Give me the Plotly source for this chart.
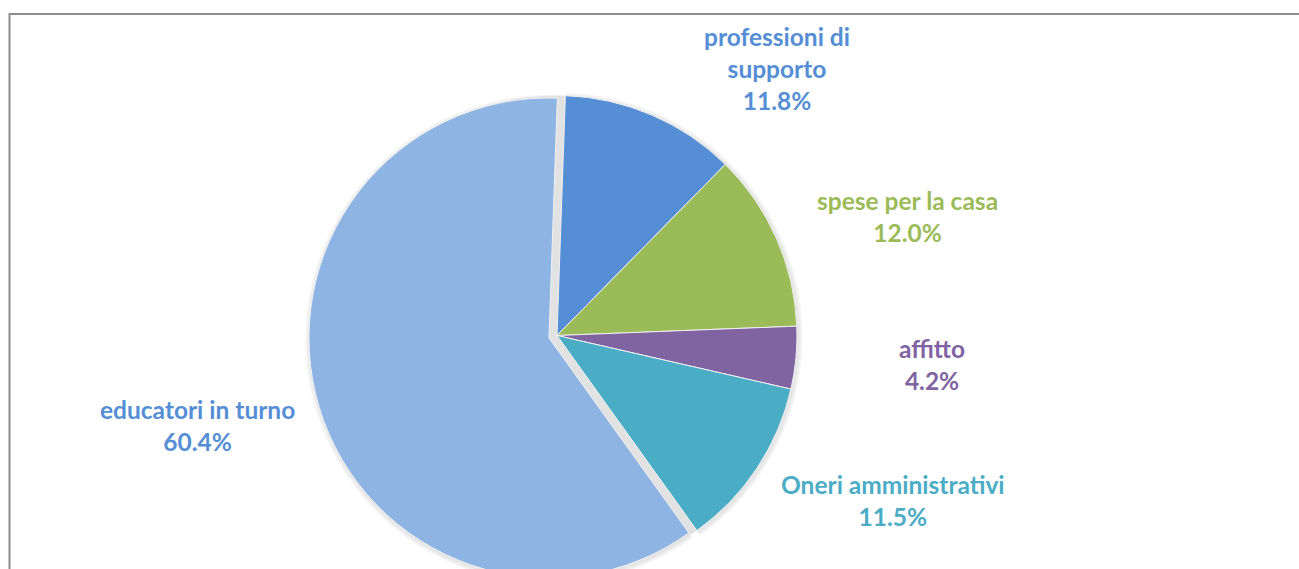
import plotly.graph_objects as go

# ---- data ----
categories = ["professioni di<br>supporto", "spese per la casa", "affitto",
              "Oneri amministrativi", "educatori in turno"]
values = [11.8, 12.0, 4.2, 11.5, 60.4]
slice_colors = ["#558ED5", "#9BBB59", "#8064A2", "#4BACC6", "#8EB4E3"]
label_colors = ["#558ED5", "#9BBB59", "#8064A2", "#4BACC6", "#558ED5"]
pulls = [0, 0, 0, 0, 0.035]

# ---- layout constants (pixels) ----
W, H = 1299, 671
CX, CY, R = 557, 335.5, 240
PULL = max(pulls)
label_pos = [(777, 68), (908, 216), (932, 364), (893, 500), (198, 425)]


def domain(size, dx=0.0, dy=0.0):
    cx, cy = CX + dx, CY + dy
    return dict(x=[(cx - size / 2) / W, (cx + size / 2) / W],
                y=[1 - (cy + size / 2) / H, 1 - (cy - size / 2) / H])


fig = go.Figure()
# soft drop shadow (layers following the exploded shape)
for extra, col in [(4.5, "#f5f5f5"), (3, "#eeeeee"), (1.5, "#e6e6e6")]:
    fig.add_trace(go.Pie(values=values, sort=False, direction="clockwise",
                         rotation=2, pull=pulls,
                         marker=dict(colors=[col] * len(values)),
                         textinfo="none", hoverinfo="skip", showlegend=False,
                         domain=domain(2 * (R + extra) * (1 + PULL), 1, 1.5)))
# light grey base visible in the gap of the exploded slice
fig.add_trace(go.Pie(values=[1], marker=dict(colors=["#e2e2e2"]),
                     textinfo="none", hoverinfo="skip", sort=False,
                     showlegend=False, domain=domain(2 * R)))
fig.add_trace(go.Pie(labels=categories, values=values, sort=False,
                     direction="clockwise", rotation=2, pull=pulls,
                     marker=dict(colors=slice_colors,
                                 line=dict(color="#f0f0f0", width=1)),
                     textinfo="none", showlegend=False,
                     domain=domain(2 * R * (1 + PULL))))

annotations = []
for name, v, col, (px, py) in zip(categories, values, label_colors, label_pos):
    annotations.append(dict(
        x=px / W, y=1 - py / H, xref="paper", yref="paper",
        text=f"{name}<br>{v:.1f}%", showarrow=False, align="center",
        xanchor="center", yanchor="middle",
        font=dict(family="Lato", size=24.5, color=col, weight="bold")))

fig.update_layout(
    width=W, height=H, margin=dict(l=0, r=0, t=0, b=0),
    paper_bgcolor="white", plot_bgcolor="white",
    annotations=annotations,
    shapes=[dict(type="rect", xref="paper", yref="paper",
                 x0=9.5 / W, x1=1.02, y0=-0.05, y1=1 - 14 / H,
                 line=dict(color="#8c8c8c", width=2), layer="below")],
)

fig.write_html(
    "out.html",
    config={"displayModeBar": False},
    post_script=("document.body.style.margin='0';"
                 "document.body.style.overflow='hidden';"
                 "document.documentElement.style.overflow='hidden';"))
